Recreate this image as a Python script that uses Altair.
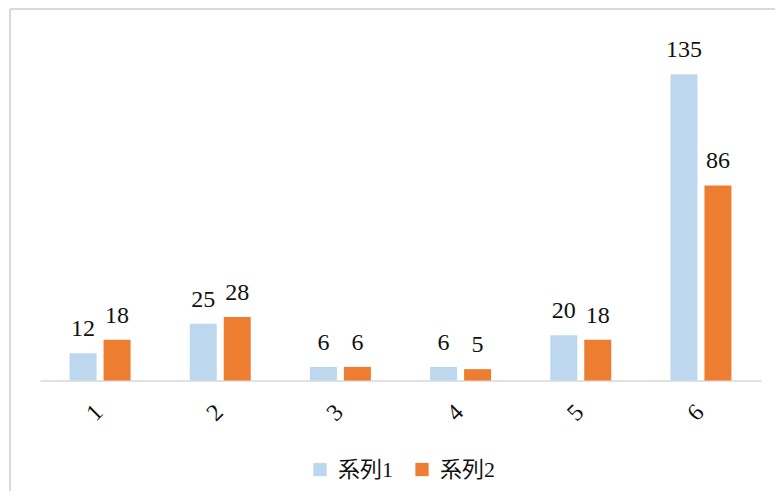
import altair as alt
import pandas as pd

categories = ["1", "2", "3", "4", "5", "6"]
series_names = ["系列1", "系列2"]
series1 = [12, 25, 6, 6, 20, 135]
series2 = [18, 28, 6, 5, 18, 86]
colors = ["#BDD7EE", "#ED7D31"]

rows = []
for c, a, b in zip(categories, series1, series2):
    rows.append({"cat": c, "series": series_names[0], "value": a})
    rows.append({"cat": c, "series": series_names[1], "value": b})
df = pd.DataFrame(rows)

FONT = "Liberation Serif, Noto Sans CJK JP"

x_enc = alt.X(
    "cat:N",
    sort=categories,
    scale=alt.Scale(paddingInner=0.4924, paddingOuter=0.246),
    axis=alt.Axis(
        title=None,
        labelAngle=-45,
        labelAlign="center",
        labelBaseline="middle",
        labelPadding=32,
        labelOffset=-5,
        ticks=False,
        domainColor="#d9d9d9",
        domainWidth=1.5,
        labelFont=FONT,
        labelFontSize=24,
        labelColor="#111111",
        grid=False,
    ),
)
xoff = alt.XOffset("series:N", sort=series_names,
                   scale=alt.Scale(paddingInner=0.206, paddingOuter=0))
y_enc = alt.Y("value:Q", scale=alt.Scale(domain=[0, 160], nice=False), axis=None)

bars = alt.Chart(df).mark_bar().encode(
    x=x_enc,
    xOffset=xoff,
    y=y_enc,
    color=alt.Color(
        "series:N",
        scale=alt.Scale(domain=series_names, range=colors),
        legend=alt.Legend(
            orient="none",
            legendX=269,
            legendY=441,
            direction="horizontal",
            title=None,
            symbolType="square",
            symbolSize=175,
            symbolStrokeWidth=0,
            labelFont=FONT,
            labelFontSize=22,
            labelColor="#111111",
            labelOffset=7,
            columnPadding=17,
        ),
    ),
)

labels = alt.Chart(df).mark_text(
    font=FONT, fontSize=24, color="#111111", baseline="alphabetic", dy=-17
).encode(
    x=x_enc,
    xOffset=xoff,
    y=y_enc,
    text=alt.Text("value:Q"),
)

border_left = alt.Chart(df).mark_rule(color="#d9d9d9", strokeWidth=1.5).encode(
    x=alt.value(-30), y=alt.value(-8.5), y2=alt.value(520)
)
border_top = alt.Chart(df).mark_rule(color="#d9d9d9", strokeWidth=1.5).encode(
    x=alt.value(-30), x2=alt.value(740), y=alt.value(-8.5)
)

chart = (
    alt.layer(border_left, border_top, bars, labels)
    .properties(
        width=721,
        height=363,
        autosize=alt.AutoSizeParams(type="none"),
        padding={"left": 32, "top": 9.5, "right": 14, "bottom": 110},
    )
    .configure_view(stroke=None)
)

chart.save("out.html", embed_options={"renderer": "svg", "actions": False})
